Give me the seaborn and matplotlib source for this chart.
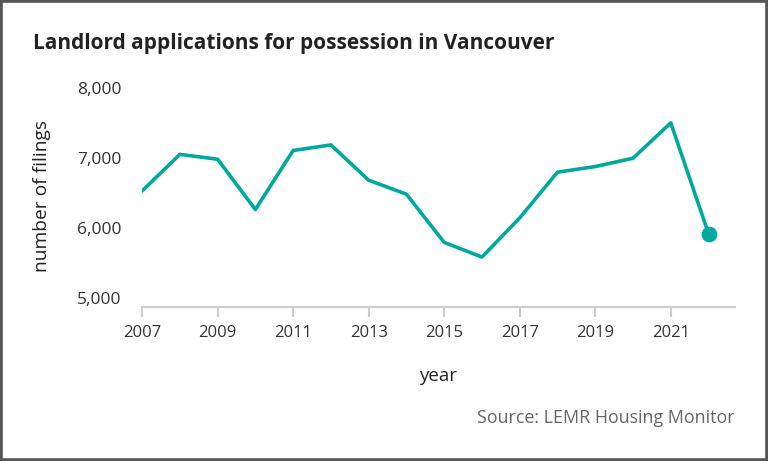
import numpy as np
import pandas as pd
import seaborn as sns
import matplotlib.pyplot as plt
from matplotlib.ticker import FuncFormatter

# 数据：温哥华房东申请收房数量
years = [2007, 2008, 2009, 2010, 2011, 2012, 2013, 2014,
         2015, 2016, 2017, 2018, 2019, 2020, 2021, 2022]
filings = [6530, 7055, 6985, 6265, 7110, 7190, 6685, 6485,
           5795, 5585, 6145, 6800, 6880, 7000, 7505, 5920]
xticks = [2007, 2009, 2011, 2013, 2015, 2017, 2019, 2021]
yticks = [5000, 6000, 7000, 8000]

df = pd.DataFrame({'year': years, 'filings': filings})

sns.set_theme(style='white')
plt.rcParams['font.family'] = ['Open Sans', 'DejaVu Sans']

teal = '#00A99D'
fig = plt.figure(figsize=(7.68, 4.61), dpi=100)
ax = fig.add_axes([0.185, 0.334, 0.772, 0.482])

sns.lineplot(data=df, x='year', y='filings', color=teal, linewidth=2.6, ax=ax)
sns.scatterplot(data=df.tail(1), x='year', y='filings', color=teal, s=110,
                edgecolor=teal, ax=ax, zorder=5)

ax.set_xlim(2007, 2022.7)
ax.set_ylim(4870, 8050)
ax.set_xticks(xticks)
ax.set_yticks(yticks)
ax.yaxis.set_major_formatter(FuncFormatter(lambda v, p: f'{int(v):,}'))
ax.tick_params(axis='x', colors='#cccccc', length=7, width=1.5, pad=6,
               labelcolor='#333333', labelsize=12, bottom=True)
ax.tick_params(axis='y', length=0, pad=15, labelcolor='#333333', labelsize=12.5)

for s in ['top', 'right', 'left']:
    ax.spines[s].set_visible(False)
ax.spines['bottom'].set_color('#cccccc')
ax.spines['bottom'].set_linewidth(1.5)

ax.set_xlabel('year', fontsize=13.5, color='#222222')
ax.xaxis.set_label_coords(0.5, -0.27)
ax.set_ylabel('number of filings', fontsize=13.8, color='#222222')
ax.yaxis.set_label_coords(-0.153, 0.5)

fig.text(0.043, 0.905, 'Landlord applications for possession in Vancouver',
         fontsize=15, fontweight='bold', color='#222222', va='center')
fig.text(0.956, 0.093, 'Source: LEMR Housing Monitor', fontsize=12.9,
         color='#666666', ha='right', va='center')

# 外框
fig.patches.append(plt.Rectangle((0, 0), 1, 1, transform=fig.transFigure,
                                 fill=False, edgecolor='#555555', linewidth=4))

fig.savefig('out.png', dpi=100)
